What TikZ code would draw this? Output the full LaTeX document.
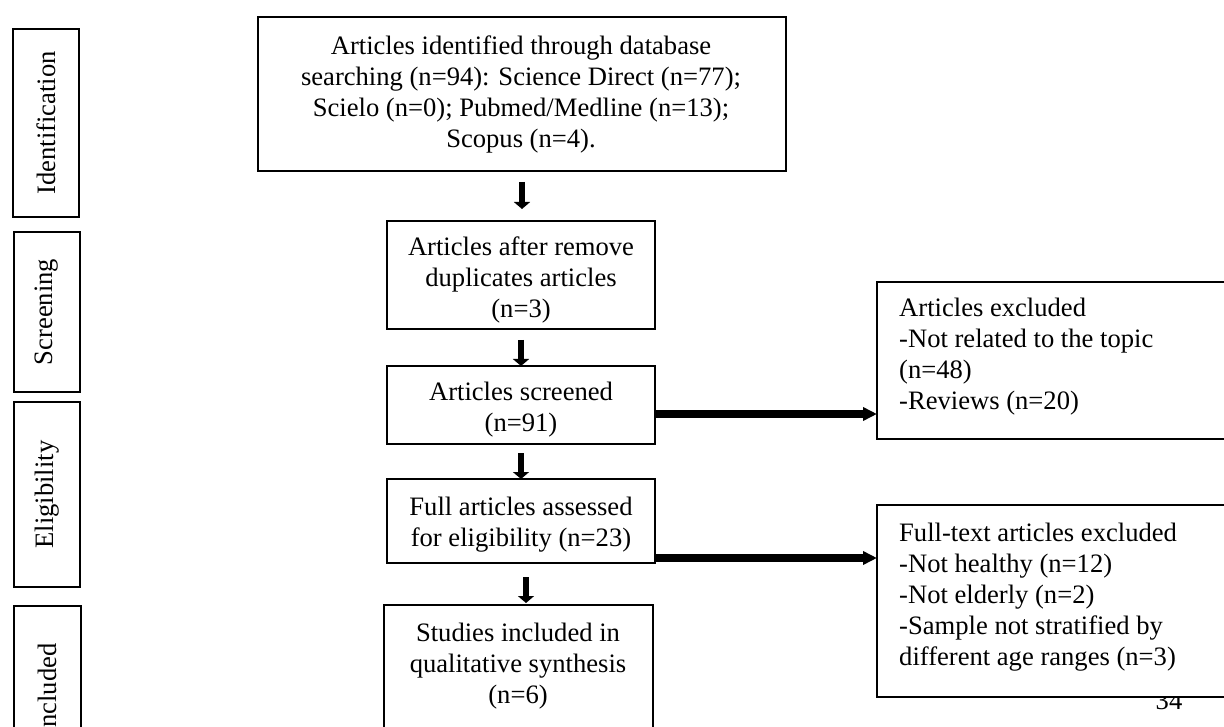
\documentclass[tikz,border=0pt]{standalone}
\usepackage{fontspec}
\setmainfont{Liberation Serif}
\usetikzlibrary{arrows.meta}
\tikzset{
  box/.style={draw=black, line width=1.3pt, fill=white, inner sep=0pt, outer sep=0pt, anchor=north west},
  txt/.style={font=\fontsize{26.6}{31}\selectfont, inner sep=0pt, anchor=north, align=center},
  ltxt/.style={font=\fontsize{26.6}{31}\selectfont, inner sep=0pt, anchor=north west, align=left},
  sidetxt/.style={font=\fontsize{26.6}{31}\selectfont, inner sep=0pt, rotate=90},
  varrow/.style={line width=5.5pt, -{Triangle[length=7pt,width=16pt]}},
  harrow/.style={line width=8pt, -{Triangle[length=14pt,width=13pt]}}
}
\begin{document}
\begin{tikzpicture}[x=1pt,y=-1pt]
\useasboundingbox (0,0) rectangle (1224,727);
\clip (0,0) rectangle (1224,727);
% page number (partly hidden behind box)
\node[font=\fontsize{26.6}{31}\selectfont, inner sep=0pt, anchor=base] (pg) at (1169,709) {34};
% side labels
\node[box, minimum width=66pt, minimum height=188pt] (s1) at (13,29) {};
\node[box, minimum width=66pt, minimum height=160pt] (s2) at (14,232) {};
\node[box, minimum width=66pt, minimum height=185pt] (s3) at (14,402) {};
\node[box, minimum width=67pt, minimum height=168pt] (s4) at (14,606) {};
\node[sidetxt] (l1) at (s1.center) {Identification};
\node[sidetxt] (l2) at (s2.center) {Screening};
\node[sidetxt] (l3) at (s3.center) {Eligibility};
\node[sidetxt] (l4) at (s4.center) {Included};
% main boxes
\node[box, minimum width=528pt, minimum height=154pt] (b1) at (258,17) {};
\node[box, minimum width=268pt, minimum height=108pt] (b2) at (387,221) {};
\node[box, minimum width=268pt, minimum height=78pt] (b3) at (387,366) {};
\node[box, minimum width=268pt, minimum height=84pt] (b5) at (387,479) {};
\node[box, minimum width=269pt, minimum height=140pt] (b6) at (384,605) {};
\node[box, minimum width=380pt, minimum height=157pt] (b4) at (877,282) {};
\node[box, minimum width=380pt, minimum height=192pt] (b7) at (877,505) {};
% texts
\node[txt] (t1) at (521,36) {Articles identified through database\\searching (n=94): Science Direct (n=77);\\Scielo (n=0); Pubmed/Medline (n=13);\\Scopus (n=4).};
\node[txt] (t2) at (521,237) {Articles after remove\\duplicates articles\\(n=3)};
\node[txt] (t3) at (521,382) {Articles screened\\(n=91)};
\node[txt] (t5) at (521,497) {Full articles assessed\\for eligibility (n=23)};
\node[txt] (t6) at (518,623) {Studies included in\\qualitative synthesis\\(n=6)};
\node[ltxt] (t4) at (899,298) {Articles excluded\\-Not related to the topic\\(n=48)\\-Reviews (n=20)};
\node[ltxt] (t7) at (899,523) {Full-text articles excluded\\-Not healthy (n=12)\\-Not elderly (n=2)\\-Sample not stratified by\\different age ranges (n=3)};
% vertical arrows
\draw[varrow, shorten <=11pt, shorten >=12pt] (b1.south) -- (b1.south |- b2.north);
\draw[varrow, shorten <=11pt] (b2.south) -- (b3.north);
\draw[varrow, shorten <=9pt] (b3.south) -- (b5.north);
\draw[varrow, shorten <=14pt, shorten >=2pt] ([xshift=5pt]b5.south) -- ([xshift=5pt]b5.south |- b6.north);
% horizontal arrows
\draw[harrow] ([yshift=-48pt]b3.north east) -- ([yshift=-48pt]b3.north east -| b4.west);
\draw[harrow] ([yshift=-79pt]b5.north east) -- ([yshift=-79pt]b5.north east -| b7.west);
\end{tikzpicture}
\end{document}
